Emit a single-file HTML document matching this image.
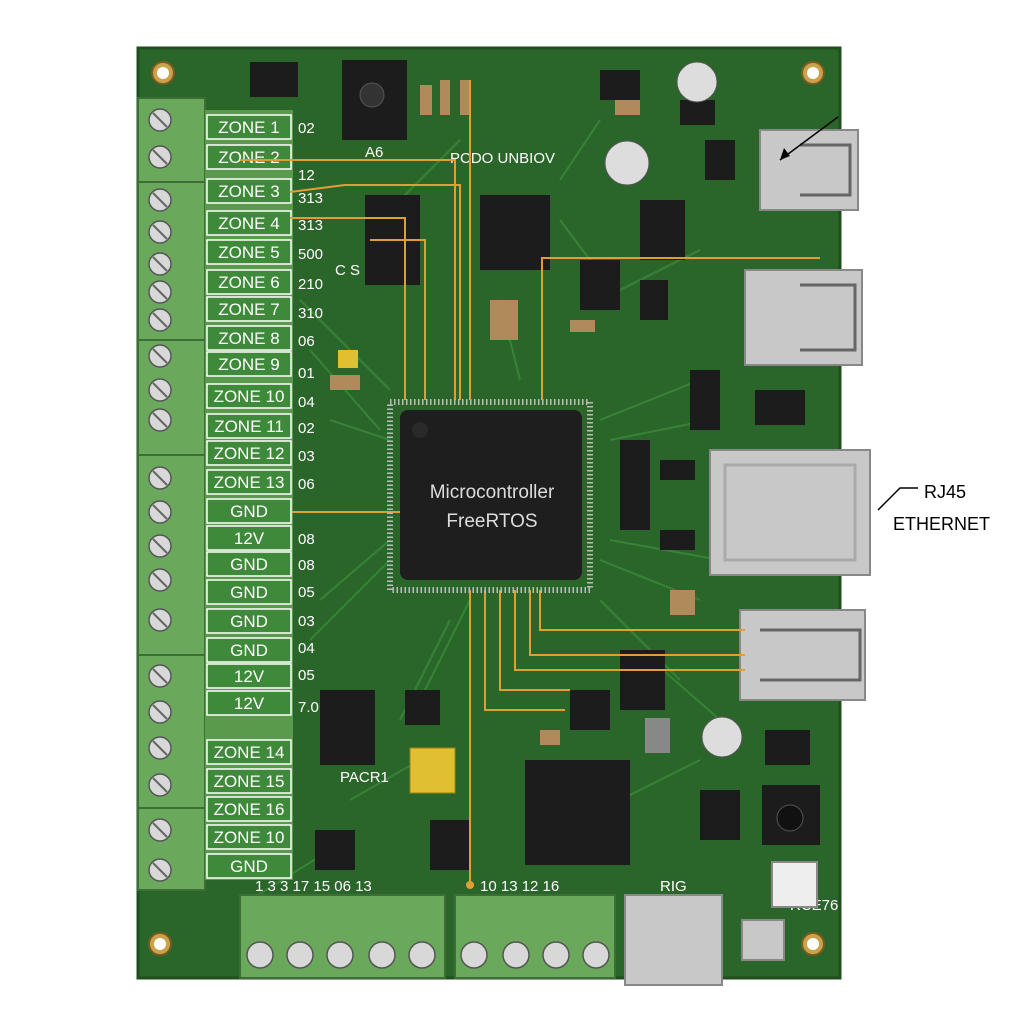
<!DOCTYPE html>
<html><head><meta charset="utf-8"><style>
html,body{margin:0;padding:0;background:#fff;}
svg{display:block;font-family:"Liberation Sans",sans-serif;}
</style></head><body>
<svg width="1024" height="1024" viewBox="0 0 1024 1024" xmlns="http://www.w3.org/2000/svg">
<rect width="1024" height="1024" fill="#fff"/>
<!-- board -->
<rect x="138" y="48" width="702" height="930" fill="#2a662a"/>
<rect x="138" y="48" width="702" height="930" fill="none" stroke="#1f4f1f" stroke-width="3"/>
<g stroke="#3c8a3a" stroke-width="2" fill="none" opacity="0.8">
<path d="M300 300 L390 390 M320 600 L390 540 M600 420 L700 380 M600 560 L700 600 M470 600 L420 700 M600 600 L680 680 M330 420 L390 440 M600 300 L700 250 M500 300 L520 380 M350 800 L420 760 M620 800 L700 760 M250 900 L330 850 M560 220 L620 300"/>
<path d="M310 350 L380 430 M310 640 L390 560 M610 440 L710 420 M610 540 L720 560 M450 620 L400 720 M640 650 L720 720 M560 180 L600 120 M400 200 L460 140"/>
</g>
<g fill="#c9a24a" stroke="#7a5a20" stroke-width="2">
<circle cx="163" cy="73" r="11"/><circle cx="813" cy="73" r="11"/><circle cx="160" cy="944" r="11"/><circle cx="813" cy="944" r="11"/>
</g>
<g fill="#fff"><circle cx="163" cy="73" r="6"/><circle cx="813" cy="73" r="6"/><circle cx="160" cy="944" r="6"/><circle cx="813" cy="944" r="6"/></g>
<!-- left terminal blocks -->
<rect x="138" y="98" width="67" height="792" fill="#6aa85c" stroke="#3d6e36" stroke-width="2"/>
<g stroke="#3d6e36" stroke-width="2">
<line x1="138" y1="182" x2="205" y2="182"/><line x1="138" y1="340" x2="205" y2="340"/><line x1="138" y1="455" x2="205" y2="455"/><line x1="138" y1="655" x2="205" y2="655"/><line x1="138" y1="808" x2="205" y2="808"/>
</g>
<g fill="#d8d8d8" stroke="#555" stroke-width="1.5">
<circle cx="160" cy="120" r="11"/><circle cx="160" cy="157" r="11"/><circle cx="160" cy="200" r="11"/><circle cx="160" cy="232" r="11"/><circle cx="160" cy="264" r="11"/><circle cx="160" cy="292" r="11"/><circle cx="160" cy="320" r="11"/><circle cx="160" cy="356" r="11"/><circle cx="160" cy="390" r="11"/><circle cx="160" cy="420" r="11"/><circle cx="160" cy="478" r="11"/><circle cx="160" cy="512" r="11"/><circle cx="160" cy="546" r="11"/><circle cx="160" cy="580" r="11"/><circle cx="160" cy="620" r="11"/><circle cx="160" cy="676" r="11"/><circle cx="160" cy="712" r="11"/><circle cx="160" cy="748" r="11"/><circle cx="160" cy="785" r="11"/><circle cx="160" cy="830" r="11"/><circle cx="160" cy="870" r="11"/>
</g>
<g stroke="#666" stroke-width="2">
<line x1="153" y1="113" x2="167" y2="127"/><line x1="153" y1="150" x2="167" y2="164"/><line x1="153" y1="193" x2="167" y2="207"/><line x1="153" y1="225" x2="167" y2="239"/><line x1="153" y1="257" x2="167" y2="271"/><line x1="153" y1="285" x2="167" y2="299"/><line x1="153" y1="313" x2="167" y2="327"/><line x1="153" y1="349" x2="167" y2="363"/><line x1="153" y1="383" x2="167" y2="397"/><line x1="153" y1="413" x2="167" y2="427"/><line x1="153" y1="471" x2="167" y2="485"/><line x1="153" y1="505" x2="167" y2="519"/><line x1="153" y1="539" x2="167" y2="553"/><line x1="153" y1="573" x2="167" y2="587"/><line x1="153" y1="613" x2="167" y2="627"/><line x1="153" y1="669" x2="167" y2="683"/><line x1="153" y1="705" x2="167" y2="719"/><line x1="153" y1="741" x2="167" y2="755"/><line x1="153" y1="778" x2="167" y2="792"/><line x1="153" y1="823" x2="167" y2="837"/><line x1="153" y1="863" x2="167" y2="877"/>
</g>
<!-- labels column -->
<rect x="205" y="110" width="88" height="770" fill="#5a9a4c"/>
<g fill="#3f8a3a" stroke="#fff" stroke-width="1.5">
<rect x="207" y="115" width="84" height="24"/><rect x="207" y="145" width="84" height="24"/><rect x="207" y="179" width="84" height="24"/><rect x="207" y="211" width="84" height="24"/><rect x="207" y="240" width="84" height="24"/><rect x="207" y="270" width="84" height="24"/><rect x="207" y="297" width="84" height="24"/><rect x="207" y="326" width="84" height="24"/><rect x="207" y="352" width="84" height="24"/><rect x="207" y="384" width="84" height="24"/><rect x="207" y="414" width="84" height="24"/><rect x="207" y="441" width="84" height="24"/><rect x="207" y="470" width="84" height="24"/><rect x="207" y="499" width="84" height="24"/><rect x="207" y="526" width="84" height="24"/><rect x="207" y="552" width="84" height="24"/><rect x="207" y="580" width="84" height="24"/><rect x="207" y="609" width="84" height="24"/><rect x="207" y="638" width="84" height="24"/><rect x="207" y="664" width="84" height="24"/><rect x="207" y="691" width="84" height="24"/><rect x="207" y="740" width="84" height="24"/><rect x="207" y="769" width="84" height="24"/><rect x="207" y="797" width="84" height="24"/><rect x="207" y="825" width="84" height="24"/><rect x="207" y="854" width="84" height="24"/>
</g>
<g fill="#fff" font-size="17" text-anchor="middle">
<text x="249" y="133">ZONE 1</text><text x="249" y="163">ZONE 2</text><text x="249" y="197">ZONE 3</text><text x="249" y="229">ZONE 4</text><text x="249" y="258">ZONE 5</text><text x="249" y="288">ZONE 6</text><text x="249" y="315">ZONE 7</text><text x="249" y="344">ZONE 8</text><text x="249" y="370">ZONE 9</text><text x="249" y="402">ZONE 10</text><text x="249" y="432">ZONE 11</text><text x="249" y="459">ZONE 12</text><text x="249" y="488">ZONE 13</text><text x="249" y="517">GND</text><text x="249" y="544">12V</text><text x="249" y="570">GND</text><text x="249" y="598">GND</text><text x="249" y="627">GND</text><text x="249" y="656">GND</text><text x="249" y="682">12V</text><text x="249" y="709">12V</text><text x="249" y="758">ZONE 14</text><text x="249" y="787">ZONE 15</text><text x="249" y="815">ZONE 16</text><text x="249" y="843">ZONE 10</text><text x="249" y="872">GND</text>
</g>
<g fill="#fff" font-size="15">
<text x="298" y="133">02</text><text x="298" y="180">12</text><text x="298" y="203">313</text><text x="298" y="230">313</text><text x="298" y="259">500</text><text x="298" y="289">210</text><text x="298" y="318">310</text><text x="298" y="346">06</text><text x="298" y="378">01</text><text x="298" y="407">04</text><text x="298" y="433">02</text><text x="298" y="461">03</text><text x="298" y="489">06</text><text x="298" y="544">08</text><text x="298" y="570">08</text><text x="298" y="597">05</text><text x="298" y="626">03</text><text x="298" y="653">04</text><text x="298" y="680">05</text><text x="298" y="712">7.0</text>
<text x="450" y="163">PCDO UNBIOV</text><text x="365" y="157">A6</text><text x="335" y="275">C S</text><text x="340" y="782">PACR1</text>
</g>
<!-- bottom terminal blocks -->
<rect x="240" y="895" width="205" height="83" fill="#6aa85c" stroke="#3d6e36" stroke-width="2"/>
<rect x="455" y="895" width="160" height="83" fill="#6aa85c" stroke="#3d6e36" stroke-width="2"/>
<g fill="#d8d8d8" stroke="#555" stroke-width="1.5">
<circle cx="260" cy="955" r="13"/><circle cx="300" cy="955" r="13"/><circle cx="340" cy="955" r="13"/><circle cx="382" cy="955" r="13"/><circle cx="422" cy="955" r="13"/>
<circle cx="474" cy="955" r="13"/><circle cx="516" cy="955" r="13"/><circle cx="556" cy="955" r="13"/><circle cx="596" cy="955" r="13"/>
</g>
<g fill="#fff" font-size="15">
<text x="255" y="891">1  3  3  17  15  06  13</text><text x="480" y="891">10  13  12  16</text><text x="660" y="891">RIG</text><text x="790" y="910">RCE76</text>
</g>
<!-- right connectors -->
<g fill="#c8c8c8" stroke="#888" stroke-width="2">
<rect x="760" y="130" width="98" height="80"/>
<rect x="745" y="270" width="117" height="95"/>
<rect x="710" y="450" width="160" height="125"/>
<rect x="740" y="610" width="125" height="90"/>
<rect x="625" y="895" width="97" height="90"/>
<rect x="742" y="920" width="42" height="40"/>
<rect x="772" y="862" width="45" height="45" fill="#eee"/>
</g>
<g fill="none" stroke="#666" stroke-width="3">
<path d="M800 145 H850 V195 H800"/><path d="M800 285 H855 V350 H800"/><path d="M760 630 H860 V680 H760"/>
<rect x="725" y="465" width="130" height="95" stroke="#aaa"/>
</g>
<path d="M878 510 L900 488 L918 488" stroke="#000" stroke-width="1.5" fill="none"/>
<text x="924" y="498" font-size="18" fill="#000">RJ45</text>
<text x="893" y="530" font-size="18" fill="#000">ETHERNET</text>
<path d="M838 117 L780 160" stroke="#000" stroke-width="1.5"/><path d="M780 160 l4 -12 l6 8 z" fill="#000"/>
<!-- components -->
<g fill="#1c1c1c">
<rect x="342" y="60" width="65" height="80"/><rect x="250" y="62" width="48" height="35"/>
<rect x="365" y="195" width="55" height="90"/><rect x="480" y="195" width="70" height="75"/>
<rect x="640" y="200" width="45" height="60"/><rect x="705" y="140" width="30" height="40"/>
<rect x="320" y="690" width="55" height="75"/><rect x="525" y="760" width="105" height="105"/>
<rect x="700" y="790" width="40" height="50"/><rect x="762" y="785" width="58" height="60"/>
<rect x="315" y="830" width="40" height="40"/><rect x="430" y="820" width="40" height="50"/>
<rect x="640" y="280" width="28" height="40"/><rect x="580" y="260" width="40" height="50"/>
<rect x="600" y="70" width="40" height="30"/><rect x="620" y="650" width="45" height="60"/>
<rect x="405" y="690" width="35" height="35"/><rect x="765" y="730" width="45" height="35"/>
<rect x="755" y="390" width="50" height="35"/><rect x="690" y="370" width="30" height="60"/>
<rect x="620" y="440" width="30" height="90"/><rect x="660" y="460" width="35" height="20"/><rect x="660" y="530" width="35" height="20"/>
<rect x="570" y="690" width="40" height="40"/><rect x="680" y="100" width="35" height="25"/>
</g>
<g fill="#ddd" stroke="#555">
<circle cx="697" cy="82" r="20"/><circle cx="627" cy="163" r="22"/><circle cx="722" cy="737" r="20"/>
<circle cx="372" cy="95" r="12" fill="#333"/><circle cx="790" cy="818" r="13" fill="#111"/>
</g>
<g fill="#b08a5a">
<rect x="490" y="300" width="28" height="40"/><rect x="330" y="375" width="30" height="15"/><rect x="645" y="718" width="25" height="35" fill="#888"/>
<rect x="420" y="85" width="12" height="30"/><rect x="440" y="80" width="10" height="35"/><rect x="460" y="80" width="10" height="35"/><rect x="615" y="100" width="25" height="15"/>
<rect x="570" y="320" width="25" height="12"/><rect x="670" y="590" width="25" height="25"/><rect x="540" y="730" width="20" height="15"/>
</g>
<rect x="410" y="748" width="45" height="45" fill="#e0c030" stroke="#a08010"/>
<rect x="338" y="350" width="20" height="18" fill="#e0c030"/>
<!-- orange traces -->
<g stroke="#e0a030" stroke-width="2" fill="none">
<path d="M240 160 H455 V400"/><path d="M290 192 L345 185 H460 V400"/><path d="M290 218 H405 V400"/><path d="M370 240 H425 V400"/>
<path d="M470 80 V400"/><path d="M542 400 V258 H820"/><path d="M292 512 H400"/>
<path d="M470 590 V885"/><path d="M485 590 V710 H520"/><path d="M500 590 V690 H570"/><path d="M515 590 V670 H745"/><path d="M530 590 V655 H745"/><path d="M540 590 V630 H745"/><path d="M500 710 H565"/>
</g>
<circle cx="470" cy="885" r="4" fill="#e0a030"/>
<!-- MCU -->
<rect x="390" y="402" width="200" height="188" fill="none" stroke="#bbb" stroke-width="6" stroke-dasharray="1.5 2.5"/>
<rect x="400" y="410" width="182" height="170" rx="8" fill="#1e1e1e"/>
<circle cx="420" cy="430" r="8" fill="#2a2a2a"/>
<text x="492" y="498" font-size="19" fill="#ddd" text-anchor="middle">Microcontroller</text>
<text x="492" y="527" font-size="19" fill="#ddd" text-anchor="middle">FreeRTOS</text>
</svg>
</body></html>
